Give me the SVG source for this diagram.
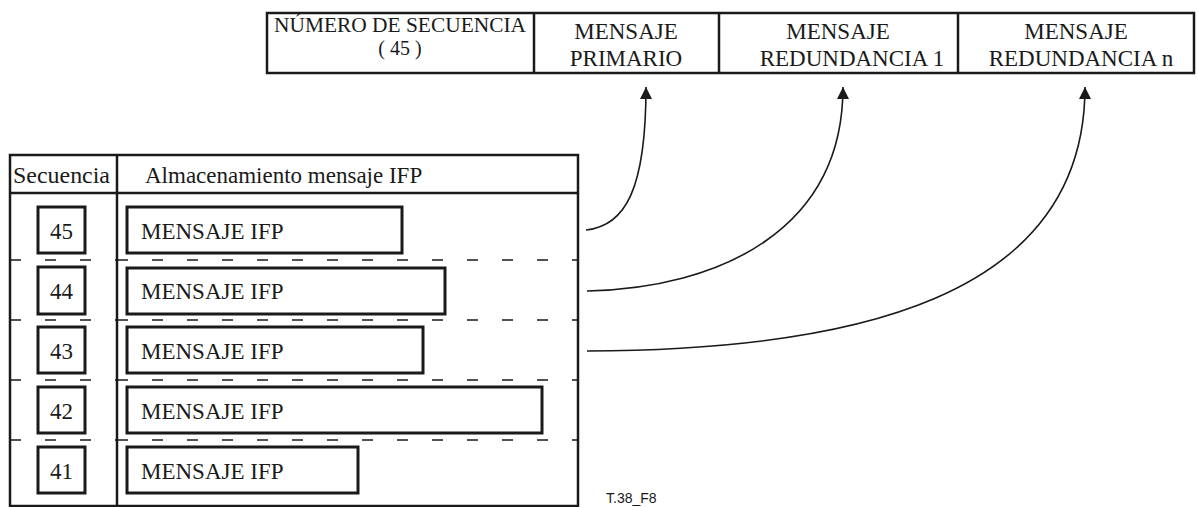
<svg xmlns="http://www.w3.org/2000/svg" width="1198" height="507" viewBox="0 0 1198 507">
<defs>
<style>
.t{font-family:"Liberation Serif","Times New Roman",serif;font-size:23px;fill:#1a1a1a}
.s{font-size:20px}
.c{text-anchor:middle}
.frame{fill:none;stroke:#1a1a1a;stroke-width:2.5}
.box{fill:#fff;stroke:#1a1a1a;stroke-width:3}
.dash{stroke:#1a1a1a;stroke-width:1.6;stroke-dasharray:11 24;fill:none}
.conn{fill:none;stroke:#1a1a1a;stroke-width:1.6}
</style>
<marker id="ah" markerUnits="userSpaceOnUse" markerWidth="13" markerHeight="12" refX="12" refY="6" orient="auto" viewBox="0 0 13 12">
<path d="M0,0 L12,6 L0,12 Z" fill="#1a1a1a"/>
</marker>
</defs>
<rect width="1198" height="507" fill="#fff"/>

<g id="header-table">
<rect class="frame" x="267" y="13" width="927" height="60"/>
<line class="frame" x1="534" y1="13" x2="534" y2="73"/>
<line class="frame" x1="719" y1="13" x2="719" y2="73"/>
<line class="frame" x1="958" y1="13" x2="958" y2="73"/>
</g>
<g id="numero-secuencia">
<text class="t s c" x="400" y="32" textLength="252" lengthAdjust="spacingAndGlyphs">NÚMERO DE SECUENCIA</text>
<text class="t s c" x="400" y="55">( 45 )</text>
</g>
<g id="mensaje-primario">
<text class="t c" x="626" y="39">MENSAJE</text>
<text class="t c" x="626" y="66">PRIMARIO</text>
</g>
<g id="mensaje-redundancia-1">
<text class="t c" x="838" y="39">MENSAJE</text>
<text class="t c" x="852" y="66">REDUNDANCIA 1</text>
</g>
<g id="mensaje-redundancia-n">
<text class="t c" x="1076" y="39">MENSAJE</text>
<text class="t c" x="1081" y="66">REDUNDANCIA n</text>
</g>

<g id="storage-table">
<rect class="frame" x="10" y="155" width="568" height="351"/>
<line class="frame" x1="117" y1="155" x2="117" y2="506"/>
<line class="frame" x1="10" y1="193" x2="578" y2="193"/>
<text class="t" x="13" y="183" textLength="97" lengthAdjust="spacingAndGlyphs">Secuencia</text>
<text class="t" x="145" y="183">Almacenamiento mensaje IFP</text>
<line class="dash" x1="10" y1="260" x2="117" y2="260"/>
<line class="dash" x1="117" y1="260" x2="578" y2="260"/>
<line class="dash" x1="10" y1="320" x2="117" y2="320"/>
<line class="dash" x1="117" y1="320" x2="578" y2="320"/>
<line class="dash" x1="10" y1="380" x2="117" y2="380"/>
<line class="dash" x1="117" y1="380" x2="578" y2="380"/>
<line class="dash" x1="10" y1="440" x2="117" y2="440"/>
<line class="dash" x1="117" y1="440" x2="578" y2="440"/>
</g>

<g id="row-45">
<rect class="box" x="38" y="207" width="47" height="46"/>
<text class="t c" x="61.5" y="239">45</text>
<rect class="box" x="127" y="207" width="275" height="46"/>
<text class="t" x="141" y="239">MENSAJE IFP</text>
</g>
<g id="row-44">
<rect class="box" x="38" y="267" width="47" height="47"/>
<text class="t c" x="61.5" y="299">44</text>
<rect class="box" x="127" y="268" width="318" height="46"/>
<text class="t" x="141" y="299">MENSAJE IFP</text>
</g>
<g id="row-43">
<rect class="box" x="38" y="327" width="47" height="46"/>
<text class="t c" x="61.5" y="359">43</text>
<rect class="box" x="127" y="327" width="296" height="46"/>
<text class="t" x="141" y="359">MENSAJE IFP</text>
</g>
<g id="row-42">
<rect class="box" x="38" y="387" width="47" height="46"/>
<text class="t c" x="61.5" y="419">42</text>
<rect class="box" x="127" y="387" width="415" height="46"/>
<text class="t" x="141" y="419">MENSAJE IFP</text>
</g>
<g id="row-41">
<rect class="box" x="38" y="447" width="47" height="46"/>
<text class="t c" x="61.5" y="479">41</text>
<rect class="box" x="127" y="447" width="231" height="46"/>
<text class="t" x="141" y="479">MENSAJE IFP</text>
</g>

<g id="connectors">
<path class="conn" d="M586,230 C625,226 646,190 646,87" marker-end="url(#ah)"/>
<path class="conn" d="M587,291 C720,288 843,230 843,87" marker-end="url(#ah)"/>
<path class="conn" d="M587,351 C850,350 1085,300 1085,87" marker-end="url(#ah)"/>
</g>

<text x="606" y="503" style="font-family:'Liberation Sans',Arial,sans-serif;font-size:14px;fill:#1a1a1a">T.38_F8</text>
</svg>
